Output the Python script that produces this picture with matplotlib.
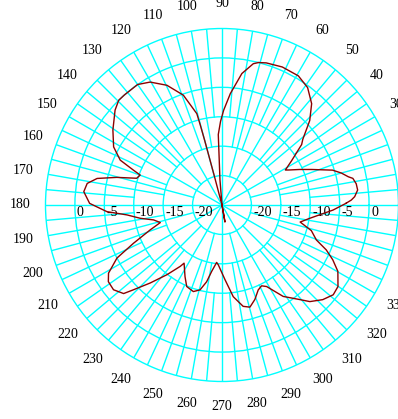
import numpy as np
import matplotlib
matplotlib.use("Agg")
import matplotlib.pyplot as plt
from matplotlib.transforms import offset_copy

plt.rcParams['font.family'] = ['Liberation Serif', 'DejaVu Serif']

# ---------- radiation pattern (angle in degrees, level in dB) ----------
angle_deg = [0.8, 2.2, 3.6, 6.3, 9.0, 11.5, 12.6, 15.0, 17.5, 21.6, 24.6, 27.7,
             28.9, 32.4, 37.2, 39.1, 43.9, 48.5, 53.9, 59.4, 66.4, 72.7, 75.6,
             77.5, 81.4, 85.7, 89.0, 91.0, 93.0, 94.6, 97.0, 100.0, 103.0,
             104.8, 105.0, 105.2, 105.4, 109.4, 114.7, 120.3, 125.0, 131.5,
             134.6, 138.4, 145.5, 151.8, 156.2, 158.5, 159.9, 162.6, 165.3,
             168.0, 170.9, 174.5, 179.3, 183.3, 186.0, 189.2, 192.3, 195.9,
             199.1, 203.4, 206.8, 211.0, 214.0, 218.0, 222.0, 223.8, 227.4,
             231.7, 235.8, 236.9, 242.7, 246.6, 251.7, 255.5, 258.7, 261.2,
             264.7, 266.5, 272.3, 277.0, 281.8, 285.3, 289.2, 293.1, 296.1,
             298.7, 303.8, 309.4, 312.3, 316.8, 321.1, 324.9, 330.2, 333.7,
             336.7, 339.7, 344.0, 347.7, 351.4, 357.4]
level_db = [-3.9, -3.0, -2.4, -1.8, -1.9, -2.3, -3.0, -4.0, -5.3, -8.6, -10.5, -12.2,
            -12.7, -11.0, -8.0, -7.3, -4.3, -2.0, -0.3, 0.5, 0.6, 0.3, 0.0,
            -0.4, -2.4, -6.0, -8.9, -10.8, -13.0, -20.7, -25.0, -27.9, -25.0,
            -19.4, -13.6, -10.7, -8.9, -5.2, -2.6, -0.8, 0.0, 0.0,
            0.0, -0.7, -2.5, -4.1, -6.1, -8.8, -10.2, -9.8, -6.5,
            -3.3, -1.8, -1.4, -2.5, -5.4, -8.8, -10.9, -13.1, -14.1,
            -12.1, -8.6, -5.0, -2.5, -1.7, -1.6, -2.5, -4.2, -7.0,
            -9.9, -12.4, -13.2, -11.3, -9.9, -9.5, -10.1, -11.7, -13.6,
            -15.2, -14.8, -12.3, -9.3, -7.4, -7.0, -8.0, -9.3, -9.7,
            -9.2, -6.3, -4.2, -2.8, -1.5, -0.7, -0.9, -2.3, -4.0,
            -5.7, -7.9, -9.2, -11.4, -9.9, -6.1]

ring_levels = [-20, -15, -10, -5, 0]
ring_labels = ["-20", "-15", "-10", "-5", "0"]
theta_ticks = list(range(0, 360, 10))
theta_labels = [str(a) for a in theta_ticks]

R_MIN, R_MAX = -25, 5
GRID = "#00ffff"

fig = plt.figure(figsize=(3.98, 4.19), dpi=100)
ax = fig.add_axes([0.1143, 0.0895, 0.8869, 0.8425], projection="polar")
ax.set_ylim(R_MIN, R_MAX)

# rings
ax.set_yticks(ring_levels)
ax.set_yticklabels([])
ax.yaxis.grid(True, color=GRID, linewidth=1.0)
ax.spines["polar"].set_color(GRID)
ax.spines["polar"].set_linewidth(1.0)

# spokes get denser further out
ax.xaxis.grid(False)
for a in range(0, 360, 5):
    if a % 30 == 0:
        r0 = R_MIN
    elif a % 15 == 0:
        r0 = -20
    elif a % 10 == 0:
        r0 = -15
    else:
        r0 = -10
    t = np.deg2rad(a)
    ax.plot([t, t], [r0, R_MAX], color=GRID, linewidth=1.0, zorder=1)

# angle labels
ax.set_xticks(np.deg2rad(theta_ticks))
ax.set_xticklabels(theta_labels)
ax.tick_params(axis="x", length=0, pad=11, labelsize=10)

# ring labels on both sides of the horizontal axis
for lvl, lab in zip(ring_levels, ring_labels):
    for side in (0.0, np.pi):
        tr = offset_copy(ax.transData, fig=fig, x=2, y=-1, units="dots")
        ax.text(side, lvl, lab, transform=tr, ha="left", va="top",
                fontsize=10, zorder=3)

# levels under the plot floor go through the centre to the other side
th = np.deg2rad(np.array(angle_deg + [angle_deg[0] + 360]))
lv = np.array(level_db + [level_db[0]])
below = lv < R_MIN
th = np.where(below, th + np.pi, th)
lv = np.where(below, 2 * R_MIN - lv, lv)
ax.plot(th, lv, color="#8b0000", linewidth=1.0, zorder=4)

ax.set_facecolor("white")
fig.savefig("out.png", dpi=100)
